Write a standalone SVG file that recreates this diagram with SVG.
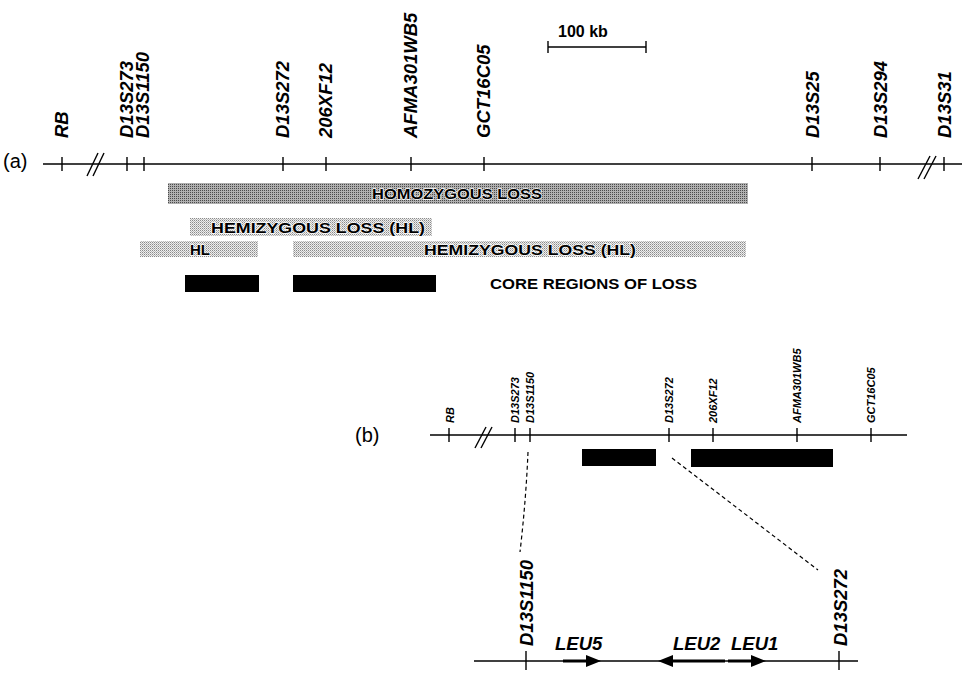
<svg xmlns="http://www.w3.org/2000/svg" width="967" height="673" viewBox="0 0 967 673">
<defs>
<pattern id="homo" width="2" height="2" patternUnits="userSpaceOnUse">
<rect width="2" height="2" fill="#b0b0b0"/><rect width="1" height="1" fill="#4a4a4a"/>
</pattern>
<pattern id="hemi" width="2" height="2" patternUnits="userSpaceOnUse">
<rect width="2" height="2" fill="#eeeeee"/><rect width="1" height="1" fill="#8a8a8a"/><rect x="1" y="1" width="1" height="1" fill="#b8b8b8"/>
</pattern>
</defs>
<style>
.ax{stroke:#000;stroke-width:1.5;fill:none}
.tk{stroke:#000;stroke-width:1.4}
.lblA{font-family:"Liberation Sans",Arial,sans-serif;font-weight:bold;font-style:italic;font-size:18.5px;fill:#000}
.lblB{font-family:"Liberation Sans",Arial,sans-serif;font-weight:bold;font-style:italic;font-size:11px;fill:#000}
.pl{font-family:"Liberation Sans",Arial,sans-serif;font-size:20px;fill:#000}
.bt{font-family:"Liberation Sans",Arial,sans-serif;font-weight:bold;font-size:15px;fill:#000;stroke:#fff;stroke-width:1.3;paint-order:stroke}
.core{font-family:"Liberation Sans",Arial,sans-serif;font-weight:bold;font-size:15.5px;fill:#000}
.dash{stroke:#000;stroke-width:1.2;fill:none;stroke-dasharray:4 3}
.gene{stroke:#000;stroke-width:3;fill:none}
</style>

<!-- (a) map -->
<g id="panelA-axis">
<text class="pl" x="3" y="168">(a)</text>
<line class="ax" x1="43" y1="164" x2="962" y2="164"/>
<line class="tk" x1="87" y1="176" x2="98" y2="153"/>
<line class="tk" x1="93" y1="176" x2="104" y2="153"/>
<line class="tk" x1="918" y1="179" x2="930" y2="156"/>
<line class="tk" x1="924" y1="179" x2="936" y2="156"/>
</g>
<g id="scale-bar">
<text x="558" y="37" font-family="Liberation Sans, Arial, sans-serif" font-weight="bold" font-size="16">100 kb</text>
<line class="tk" x1="548" y1="47" x2="646" y2="47"/>
<line class="tk" x1="548" y1="41" x2="548" y2="53"/>
<line class="tk" x1="646" y1="41" x2="646" y2="53"/>
</g>
<g id="a-RB"><line class="tk" x1="62" y1="157" x2="62" y2="171"/><text class="lblA" transform="translate(68,138) rotate(-90)">RB</text></g>
<g id="a-D13S273"><line class="tk" x1="127" y1="157" x2="127" y2="171"/><text class="lblA" transform="translate(133,138) rotate(-90)">D13S273</text></g>
<g id="a-D13S1150"><line class="tk" x1="144" y1="157" x2="144" y2="171"/><text class="lblA" transform="translate(149,138) rotate(-90)">D13S1150</text></g>
<g id="a-D13S272"><line class="tk" x1="283" y1="157" x2="283" y2="171"/><text class="lblA" transform="translate(289,138) rotate(-90)">D13S272</text></g>
<g id="a-206XF12"><line class="tk" x1="326" y1="157" x2="326" y2="171"/><text class="lblA" transform="translate(332,138) rotate(-90)">206XF12</text></g>
<g id="a-AFMA301WB5"><line class="tk" x1="411" y1="157" x2="411" y2="171"/><text class="lblA" transform="translate(417,138) rotate(-90)">AFMA301WB5</text></g>
<g id="a-GCT16C05"><line class="tk" x1="484" y1="157" x2="484" y2="171"/><text class="lblA" transform="translate(490,138) rotate(-90)">GCT16C05</text></g>
<g id="a-D13S25"><line class="tk" x1="812" y1="157" x2="812" y2="171"/><text class="lblA" transform="translate(819,138) rotate(-90)">D13S25</text></g>
<g id="a-D13S294"><line class="tk" x1="880" y1="157" x2="880" y2="171"/><text class="lblA" transform="translate(887,138) rotate(-90)">D13S294</text></g>
<g id="a-D13S31"><line class="tk" x1="944" y1="157" x2="944" y2="171"/><text class="lblA" transform="translate(951,138) rotate(-90)">D13S31</text></g>

<g id="homozygous-loss">
<rect x="168" y="183" width="580" height="21" fill="url(#homo)"/>
<text class="bt" x="457" y="199" text-anchor="middle" textLength="170" lengthAdjust="spacingAndGlyphs">HOMOZYGOUS LOSS</text>
</g>
<g id="hemizygous-loss-1">
<rect x="190" y="218" width="242" height="18" fill="url(#hemi)"/>
<text class="bt" x="318" y="233" text-anchor="middle" textLength="214" lengthAdjust="spacingAndGlyphs">HEMIZYGOUS LOSS (HL)</text>
</g>
<g id="hemizygous-loss-2">
<rect x="140" y="241" width="118" height="16" fill="url(#hemi)"/>
<text class="bt" x="200" y="255" text-anchor="middle">HL</text>
</g>
<g id="hemizygous-loss-3">
<rect x="293" y="241" width="453" height="16" fill="url(#hemi)"/>
<text class="bt" x="530" y="255" text-anchor="middle" textLength="212" lengthAdjust="spacingAndGlyphs">HEMIZYGOUS LOSS (HL)</text>
</g>
<g id="core-regions">
<rect x="185" y="275" width="74" height="17" fill="#000"/>
<rect x="293" y="275" width="143" height="17" fill="#000"/>
<text class="core" x="490" y="289" textLength="207" lengthAdjust="spacingAndGlyphs">CORE REGIONS OF LOSS</text>
</g>

<!-- (b) map -->
<g id="panelB-axis">
<text class="pl" x="355" y="442">(b)</text>
<line class="ax" x1="430" y1="435" x2="907" y2="435"/>
<line class="tk" x1="475" y1="448" x2="486" y2="427"/>
<line class="tk" x1="481" y1="448" x2="492" y2="427"/>
</g>
<g id="b-RB"><line class="tk" x1="449" y1="428" x2="449" y2="442"/><text class="lblB" transform="translate(454,423) rotate(-90)">RB</text></g>
<g id="b-D13S273"><line class="tk" x1="515" y1="428" x2="515" y2="442"/><text class="lblB" transform="translate(519,423) rotate(-90)">D13S273</text></g>
<g id="b-D13S1150"><line class="tk" x1="530" y1="428" x2="530" y2="442"/><text class="lblB" transform="translate(534,423) rotate(-90)">D13S1150</text></g>
<g id="b-D13S272"><line class="tk" x1="669" y1="428" x2="669" y2="442"/><text class="lblB" transform="translate(673,423) rotate(-90)">D13S272</text></g>
<g id="b-206XF12"><line class="tk" x1="713" y1="428" x2="713" y2="442"/><text class="lblB" transform="translate(717,423) rotate(-90)">206XF12</text></g>
<g id="b-AFMA301WB5"><line class="tk" x1="797" y1="428" x2="797" y2="442"/><text class="lblB" transform="translate(801,423) rotate(-90)">AFMA301WB5</text></g>
<g id="b-GCT16C05"><line class="tk" x1="871" y1="428" x2="871" y2="442"/><text class="lblB" transform="translate(875,423) rotate(-90)">GCT16C05</text></g>
<g id="b-core">
<rect x="582" y="449" width="74" height="17" fill="#000"/>
<rect x="691" y="449" width="142" height="18" fill="#000"/>
</g>

<!-- detail map -->
<g id="c-axis">
<line class="ax" x1="474" y1="661" x2="858" y2="661"/>
</g>
<g id="c-D13S1150"><line class="tk" x1="526" y1="651" x2="526" y2="670"/><text class="lblA" transform="translate(533,646) rotate(-90)">D13S1150</text></g>
<g id="c-D13S272"><line class="tk" x1="839" y1="651" x2="839" y2="670"/><text class="lblA" transform="translate(847,646) rotate(-90)">D13S272</text></g>
<g id="gene-LEU5">
<text class="lblA" x="555" y="650">LEU5</text>
<line class="gene" x1="563" y1="661" x2="588" y2="661"/>
<path d="M586,655 L601,661 L586,667 z" fill="#000"/>
</g>
<g id="gene-LEU2">
<text class="lblA" x="673" y="650">LEU2</text>
<line class="gene" x1="671" y1="661" x2="725" y2="661"/>
<path d="M673,655 L658,661 L673,667 z" fill="#000"/>
</g>
<g id="gene-LEU1">
<text class="lblA" x="731" y="650">LEU1</text>
<line class="gene" x1="728" y1="661" x2="753" y2="661"/>
<path d="M751,655 L766,661 L751,667 z" fill="#000"/>
</g>

<g id="connectors">
<path class="dash" d="M528,452 Q526,500 520,552"/>
<path class="dash" d="M672,458 L818,570"/>
</g>
</svg>
